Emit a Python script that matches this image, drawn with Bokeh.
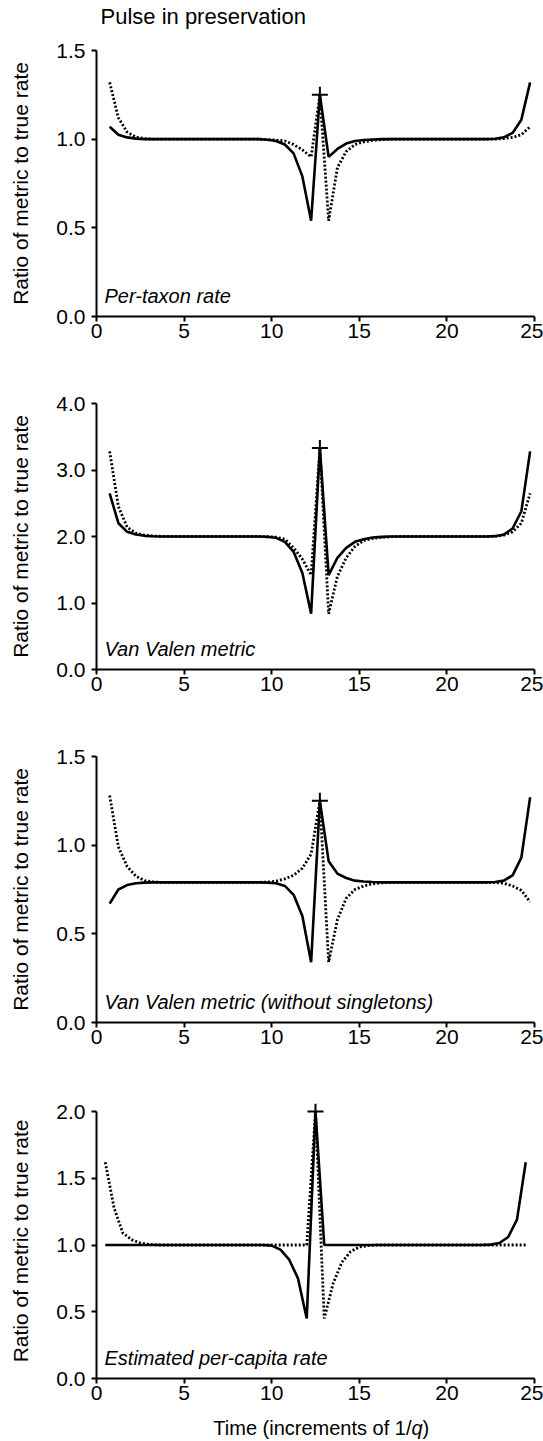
from bokeh.plotting import figure
from bokeh.layouts import column
from bokeh.models import FixedTicker, PrintfTickFormatter, Label, Range1d
from bokeh.core.properties import value
from bokeh.embed import file_html
from bokeh.resources import INLINE

FONT = "Liberation Sans"
FS_TICK = "21px"
FS_LAB = "20px"

# Time points (increments of 1/q)
time_mid = [0.75, 1.25, 1.75, 2.25, 2.75, 3.25, 3.75, 4.25, 4.75, 5.25,
            5.75, 6.25, 6.75, 7.25, 7.75, 8.25, 8.75, 9.25, 9.75, 10.25,
            10.75, 11.25, 11.75, 12.25, 12.75, 13.25, 13.75, 14.25, 14.75, 15.25,
            15.75, 16.25, 16.75, 17.25, 17.75, 18.25, 18.75, 19.25, 19.75, 20.25,
            20.75, 21.25, 21.75, 22.25, 22.75, 23.25, 23.75, 24.25, 24.75]
time_bnd = [0.5, 1.0, 1.5, 2.0, 2.5, 3.0, 3.5, 4.0, 4.5, 5.0,
            5.5, 6.0, 6.5, 7.0, 7.5, 8.0, 8.5, 9.0, 9.5, 10.0,
            10.5, 11.0, 11.5, 12.0, 12.5, 13.0, 13.5, 14.0, 14.5, 15.0,
            15.5, 16.0, 16.5, 17.0, 17.5, 18.0, 18.5, 19.0, 19.5, 20.0,
            20.5, 21.0, 21.5, 22.0, 22.5, 23.0, 23.5, 24.0, 24.5]

# time of the preservation pulse (marked with +) in each panel
pulse_time = [12.75, 12.75, 12.75, 12.5]

# Panel 1: per-taxon rate
per_taxon_solid = [1.07, 1.025, 1.01, 1.003,
                   1.0, 1.0, 1.0, 1.0, 1.0, 1.0, 1.0, 1.0, 1.0, 1.0, 1.0, 1.0, 1.0, 1.0,
                   0.997, 0.99, 0.97, 0.92, 0.79, 0.54, 1.25, 0.90, 0.945, 0.975, 0.99, 0.995, 0.998,
                   1.0, 1.0, 1.0, 1.0, 1.0, 1.0, 1.0, 1.0, 1.0, 1.0, 1.0, 1.0, 1.0,
                   1.002, 1.01, 1.035, 1.11, 1.32]
per_taxon_dotted = [1.32, 1.12, 1.04, 1.012, 1.003,
                    1.0, 1.0, 1.0, 1.0, 1.0, 1.0, 1.0, 1.0, 1.0, 1.0, 1.0, 1.0, 1.0,
                    0.998, 0.995, 0.99, 0.97, 0.94, 0.90, 1.25, 0.54, 0.84, 0.93, 0.97, 0.985, 0.993, 0.997,
                    1.0, 1.0, 1.0, 1.0, 1.0, 1.0, 1.0, 1.0, 1.0, 1.0, 1.0, 1.0, 1.0,
                    1.003, 1.01, 1.025, 1.07]

# Panel 2: Van Valen metric
van_valen_solid = [2.65, 2.2, 2.07, 2.03, 2.01, 2.003,
                   2.0, 2.0, 2.0, 2.0, 2.0, 2.0, 2.0, 2.0, 2.0, 2.0, 2.0, 2.0,
                   1.995, 1.98, 1.92, 1.77, 1.45, 0.84, 3.33, 1.42, 1.68, 1.83, 1.92, 1.96, 1.985, 1.995,
                   2.0, 2.0, 2.0, 2.0, 2.0, 2.0, 2.0, 2.0, 2.0, 2.0, 2.0, 2.0,
                   2.005, 2.03, 2.12, 2.38, 3.28]
van_valen_dotted = [3.28, 2.45, 2.14, 2.05, 2.02, 2.007, 2.002,
                    2.0, 2.0, 2.0, 2.0, 2.0, 2.0, 2.0, 2.0, 2.0, 2.0, 2.0,
                    1.997, 1.99, 1.96, 1.83, 1.66, 1.42, 3.33, 0.84, 1.40, 1.68, 1.85, 1.94, 1.97, 1.985, 1.995,
                    2.0, 2.0, 2.0, 2.0, 2.0, 2.0, 2.0, 2.0, 2.0, 2.0, 2.0,
                    2.002, 2.02, 2.07, 2.2, 2.65]

# Panel 3: Van Valen metric without singletons
vv_nosingle_solid = [0.67, 0.75, 0.775, 0.785, 0.789,
                     0.79, 0.79, 0.79, 0.79, 0.79, 0.79, 0.79, 0.79, 0.79, 0.79, 0.79, 0.79, 0.79,
                     0.789, 0.785, 0.77, 0.72, 0.60, 0.34, 1.25, 0.91, 0.84, 0.815, 0.80, 0.795, 0.792,
                     0.79, 0.79, 0.79, 0.79, 0.79, 0.79, 0.79, 0.79, 0.79, 0.79, 0.79, 0.79, 0.79,
                     0.792, 0.80, 0.83, 0.93, 1.27]
vv_nosingle_dotted = [1.28, 0.99, 0.88, 0.825, 0.80, 0.793,
                      0.79, 0.79, 0.79, 0.79, 0.79, 0.79, 0.79, 0.79, 0.79, 0.79, 0.79, 0.79,
                      0.792, 0.797, 0.81, 0.83, 0.87, 0.95, 1.25, 0.34, 0.58, 0.70, 0.75, 0.77, 0.782, 0.787,
                      0.79, 0.79, 0.79, 0.79, 0.79, 0.79, 0.79, 0.79, 0.79, 0.79, 0.79, 0.79, 0.79,
                      0.785, 0.77, 0.745, 0.68]

# Panel 4: estimated per-capita rate
per_capita_solid = [1.0, 1.0, 1.0, 1.0, 1.0, 1.0, 1.0, 1.0, 1.0, 1.0,
                    1.0, 1.0, 1.0, 1.0, 1.0, 1.0, 1.0, 1.0, 1.0,
                    0.995, 0.965, 0.89, 0.75, 0.45, 2.0, 1.0,
                    1.0, 1.0, 1.0, 1.0, 1.0, 1.0, 1.0, 1.0, 1.0, 1.0, 1.0, 1.0, 1.0, 1.0, 1.0, 1.0, 1.0, 1.0,
                    1.003, 1.015, 1.06, 1.19, 1.62]
per_capita_dotted = [1.62, 1.28, 1.09, 1.04, 1.015, 1.005,
                     1.0, 1.0, 1.0, 1.0, 1.0, 1.0, 1.0, 1.0, 1.0, 1.0, 1.0, 1.0, 1.0, 1.0, 1.0, 1.0, 1.0, 1.0,
                     2.0, 0.45, 0.71, 0.87, 0.95, 0.985, 0.995,
                     1.0, 1.0, 1.0, 1.0, 1.0, 1.0, 1.0, 1.0, 1.0, 1.0, 1.0, 1.0, 1.0, 1.0, 1.0, 1.0, 1.0, 1.0]

x_ticks = [0, 5, 10, 15, 20, 25]
y_ticks_1 = [0.0, 0.5, 1.0, 1.5]
y_ticks_2 = [0.0, 1.0, 2.0, 3.0, 4.0]
y_ticks_3 = [0.0, 0.5, 1.0, 1.5]
y_ticks_4 = [0.0, 0.5, 1.0, 1.5, 2.0]

panel_names = ["Per-taxon rate", "Van Valen metric",
               "Van Valen metric (without singletons)", "Estimated per-capita rate"]
title_text = "Pulse in preservation"
xlabel_parts = ["Time (increments of 1/", "q", ")"]
ylabel_text = "Ratio of metric to true rate"

LEFT, FRAME_W, RIGHT = 96, 438, 9


def make_panel(t, solid, dotted, yticks, tpulse, name, top, bottom, frame_h, pad_px=0):
    ymax = yticks[-1]
    y_end = ymax * frame_h / (frame_h - pad_px)
    p = figure(frame_width=FRAME_W, frame_height=frame_h,
               x_range=Range1d(0, 25), y_range=Range1d(0, y_end),
               output_backend="svg", toolbar_location=None,
               min_border_left=LEFT, min_border_right=RIGHT,
               min_border_top=top, min_border_bottom=bottom)
    p.outline_line_color = None
    p.grid.visible = False
    p.line(t, solid, line_color="black", line_width=2.6)
    p.line(t, dotted, line_color="black", line_width=2.8, line_dash="2 2")
    k = t.index(tpulse)
    p.scatter([t[k]], [solid[k]], marker="cross", size=16,
              line_width=2, line_color="black")
    for ax in (p.xaxis[0], p.yaxis[0]):
        ax.axis_line_width = 2
        ax.axis_line_color = "black"
        ax.major_tick_line_width = 2
        ax.major_tick_line_color = "black"
        ax.major_tick_out = 5
        ax.major_tick_in = 0
        ax.minor_tick_line_color = None
        ax.major_label_text_font = FONT
        ax.major_label_text_font_size = FS_TICK
        ax.major_label_text_color = "black"
    p.xaxis.ticker = FixedTicker(ticks=x_ticks)
    p.yaxis.ticker = FixedTicker(ticks=yticks)
    p.yaxis.formatter = PrintfTickFormatter(format="%.1f")
    p.yaxis.bounds = (0, ymax)
    p.xaxis.major_label_standoff = 2
    p.yaxis.major_label_standoff = 6
    p.yaxis.axis_label = ylabel_text
    p.yaxis.axis_label_text_font = FONT
    p.yaxis.axis_label_text_font_size = FS_TICK
    p.yaxis.axis_label_text_font_style = "normal"
    p.yaxis.axis_label_text_color = "black"
    p.yaxis.axis_label_standoff = 21
    p.add_layout(Label(x=8, y=10, x_units="screen", y_units="screen", text=name,
                       text_font=FONT, text_font_size=FS_LAB, text_font_style="italic",
                       text_color="black"))
    return p


def text_strip(h):
    s = figure(frame_width=FRAME_W, frame_height=h,
               x_range=Range1d(0, FRAME_W), y_range=Range1d(0, h),
               x_axis_type=None, y_axis_type=None,
               output_backend="svg", toolbar_location=None,
               min_border_left=LEFT, min_border_right=RIGHT,
               min_border_top=0, min_border_bottom=0)
    s.outline_line_color = None
    s.grid.visible = False
    return s


# title strip
top_strip = text_strip(38)
top_strip.text(x=[4], y=[22], text=[title_text], text_font=value(FONT),
               text_font_size=value("22px"), text_align="left",
               text_baseline="middle", text_color="black")

p1 = make_panel(time_mid, per_taxon_solid, per_taxon_dotted, y_ticks_1, pulse_time[0],
                panel_names[0], 12, 45, 266)
p2 = make_panel(time_mid, van_valen_solid, van_valen_dotted, y_ticks_2, pulse_time[1],
                panel_names[1], 42, 45, 266)
p3 = make_panel(time_mid, vv_nosingle_solid, vv_nosingle_dotted, y_ticks_3, pulse_time[2],
                panel_names[2], 42, 45, 266)
p4 = make_panel(time_bnd, per_capita_solid, per_capita_dotted, y_ticks_4, pulse_time[3],
                panel_names[3], 36, 34, 275, pad_px=8)

# x-axis title strip (with italic q)
bottom_strip = text_strip(28)
XL_Y = 13
bottom_strip.text(x=[315], y=[XL_Y], text=[xlabel_parts[0]], text_font=value(FONT),
                  text_font_size=value(FS_LAB), text_align="right",
                  text_baseline="middle", text_color="black")
bottom_strip.text(x=[315], y=[XL_Y], text=[xlabel_parts[1]], text_font=value(FONT),
                  text_font_size=value(FS_LAB), text_font_style="italic", text_align="left",
                  text_baseline="middle", text_color="black")
bottom_strip.text(x=[326], y=[XL_Y], text=[xlabel_parts[2]], text_font=value(FONT),
                  text_font_size=value(FS_LAB), text_align="left",
                  text_baseline="middle", text_color="black")

layout = column(top_strip, p1, p2, p3, p4, bottom_strip)
open("out.html", "w").write(file_html(layout, INLINE))
